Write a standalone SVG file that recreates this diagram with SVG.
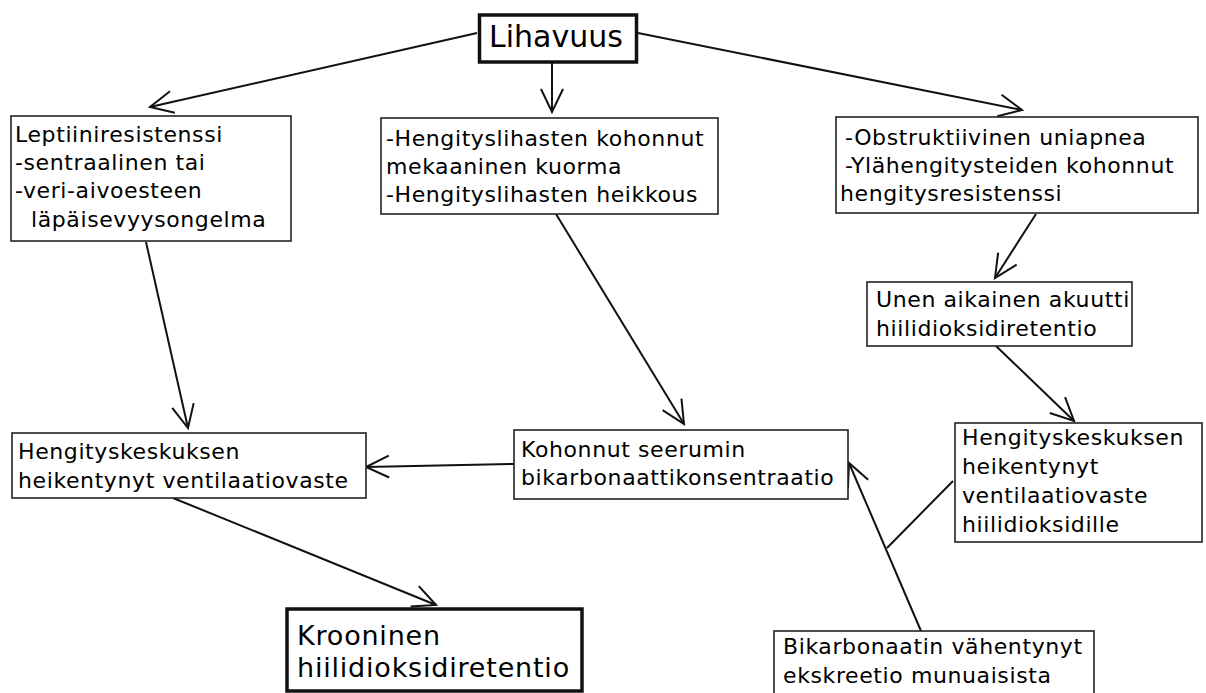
<svg xmlns="http://www.w3.org/2000/svg" width="1206" height="693" viewBox="0 0 1206 693">
<style>
.bx{fill:#fff;stroke:#222;stroke-width:1.6}
.bk{fill:#fff;stroke:#111;stroke-width:3.5}
.t{font-family:"DejaVu Sans",Verdana,sans-serif;font-size:22px;letter-spacing:0.6px;fill:#000}
.tb{font-family:"DejaVu Sans",Verdana,sans-serif;font-size:27px;letter-spacing:0.8px;fill:#000}
.tl{font-family:"DejaVu Sans",Verdana,sans-serif;font-size:30px;fill:#000}
.c{stroke:#111;stroke-width:2;fill:none}
</style>
<defs>
<marker id="ah" markerUnits="userSpaceOnUse" markerWidth="30" markerHeight="30" viewBox="-26 -14 30 28" refX="0" refY="0" orient="auto" overflow="visible">
<path d="M-23,-11 L0,0 L-23,11" fill="none" stroke="#111" stroke-width="2"/>
</marker>
</defs>
<rect width="1206" height="693" fill="#fff"/>
<g id="connectors">
<line class="c" x1="477" y1="33" x2="150" y2="107" marker-end="url(#ah)"/>
<line class="c" x1="552" y1="62" x2="552" y2="112" marker-end="url(#ah)"/>
<line class="c" x1="638" y1="33" x2="1022" y2="110" marker-end="url(#ah)"/>
<line class="c" x1="146" y1="242" x2="188" y2="428" marker-end="url(#ah)"/>
<line class="c" x1="556" y1="214" x2="684" y2="424" marker-end="url(#ah)"/>
<line class="c" x1="1036" y1="214" x2="995" y2="278" marker-end="url(#ah)"/>
<line class="c" x1="996" y1="346" x2="1074" y2="421" marker-end="url(#ah)"/>
<line class="c" x1="514" y1="464" x2="366" y2="467" marker-end="url(#ah)"/>
<line class="c" x1="173" y1="498" x2="436" y2="605" marker-end="url(#ah)"/>
<line class="c" x1="921" y1="631" x2="849" y2="463" marker-end="url(#ah)"/>
<line class="c" x1="953" y1="481" x2="887" y2="548"/>
</g>
<g id="n-lihavuus">
<rect class="bk" x="479.5" y="15" width="157" height="47"/>
<text class="tl" x="489" y="47">Lihavuus</text>
</g>
<g id="n-leptiini">
<rect class="bx" x="11" y="116" width="280" height="125"/>
<text class="t" x="15" y="142">Leptiiniresistenssi</text>
<text class="t" x="15" y="170">-sentraalinen tai</text>
<text class="t" x="15" y="198">-veri-aivoesteen</text>
<text class="t" x="31" y="227">läpäisevyysongelma</text>
</g>
<g id="n-lihakset">
<rect class="bx" x="381" y="118" width="337" height="96"/>
<text class="t" x="386" y="146">-Hengityslihasten kohonnut</text>
<text class="t" x="386" y="174">mekaaninen kuorma</text>
<text class="t" x="386" y="202">-Hengityslihasten heikkous</text>
</g>
<g id="n-apnea">
<rect class="bx" x="836" y="117" width="362" height="96"/>
<text class="t" x="845" y="145">-Obstruktiivinen uniapnea</text>
<text class="t" x="845" y="173">-Ylähengitysteiden kohonnut</text>
<text class="t" x="840" y="201">hengitysresistenssi</text>
</g>
<g id="n-unen">
<rect class="bx" x="867" y="282" width="265" height="64"/>
<text class="t" x="876" y="307">Unen aikainen akuutti</text>
<text class="t" x="876" y="336">hiilidioksidiretentio</text>
</g>
<g id="n-heik-oikea">
<rect class="bx" x="955" y="423" width="247" height="119"/>
<text class="t" x="962" y="445">Hengityskeskuksen</text>
<text class="t" x="962" y="474">heikentynyt</text>
<text class="t" x="962" y="503">ventilaatiovaste</text>
<text class="t" x="962" y="532">hiilidioksidille</text>
</g>
<g id="n-heik-vasen">
<rect class="bx" x="12" y="433" width="354" height="65"/>
<text class="t" x="18" y="459">Hengityskeskuksen</text>
<text class="t" x="18" y="488">heikentynyt ventilaatiovaste</text>
</g>
<g id="n-kohonnut">
<rect class="bx" x="514" y="430" width="334" height="69"/>
<text class="t" x="521" y="457">Kohonnut seerumin</text>
<text class="t" x="521" y="485">bikarbonaattikonsentraatio</text>
</g>
<g id="n-krooninen">
<rect class="bk" x="287" y="609" width="295" height="82"/>
<text class="tb" x="297" y="645">Krooninen</text>
<text class="tb" x="297" y="677">hiilidioksidiretentio</text>
</g>
<g id="n-bikarbonaatti">
<rect class="bx" x="774" y="631" width="320" height="80"/>
<text class="t" x="783" y="654">Bikarbonaatin vähentynyt</text>
<text class="t" x="783" y="683">ekskreetio munuaisista</text>
</g>
</svg>
